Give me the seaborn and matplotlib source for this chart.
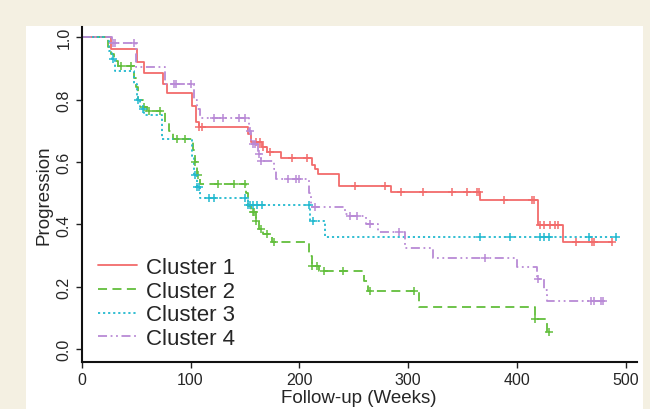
import numpy as np
import pandas as pd
import matplotlib
matplotlib.use("Agg")
import matplotlib.pyplot as plt
import seaborn as sns

# -------------------------------
# ДАНІ
# -------------------------------
labels = ["Cluster 1", "Cluster 2", "Cluster 3", "Cluster 4"]

c1_time = [0, 27, 51, 57, 75, 78, 101, 105, 108, 153, 156, 166, 170, 183, 212, 214, 217, 236, 284, 366, 419, 442, 487]
c1_surv = [1.0, 0.962, 0.92, 0.885, 0.85, 0.823, 0.78, 0.728, 0.713, 0.69, 0.664, 0.648, 0.632, 0.612, 0.59, 0.577, 0.561, 0.524, 0.503, 0.478, 0.399, 0.344, 0.344]
c1_cens = [108, 111, 160, 164, 167, 173, 193, 207, 251, 279, 293, 314, 340, 354, 363, 365, 388, 414, 416, 421, 425, 430, 435, 438, 454, 469, 471, 487]

c2_time = [0, 24, 27, 30, 33, 48, 50, 52, 56, 60, 77, 80, 84, 102, 104, 106, 109, 151, 153, 156, 160, 163, 167, 175, 209, 212, 218, 259, 263, 310, 417, 428, 429]
c2_surv = [1.0, 0.97, 0.946, 0.925, 0.909, 0.87, 0.84, 0.80, 0.777, 0.765, 0.73, 0.70, 0.674, 0.64, 0.60, 0.56, 0.53, 0.50, 0.46, 0.44, 0.41, 0.385, 0.369, 0.344, 0.30, 0.267, 0.25, 0.22, 0.187, 0.134, 0.096, 0.054, 0.054]
c2_cens = [36, 45, 57, 62, 72, 88, 95, 104, 107, 125, 140, 150, 157, 158, 160, 165, 170, 177, 212, 216, 223, 240, 265, 305, 417, 429]

c3_time = [0, 25, 28, 31, 48, 51, 54, 57, 74, 101, 103, 106, 109, 153, 210, 224, 491]
c3_surv = [1.0, 0.957, 0.93, 0.893, 0.85, 0.80, 0.77, 0.751, 0.674, 0.62, 0.56, 0.52, 0.484, 0.462, 0.412, 0.36, 0.36]
c3_cens = [29, 52, 56, 104, 106, 108, 117, 122, 150, 153, 155, 157, 161, 166, 209, 213, 366, 394, 421, 425, 429, 466, 491]

c4_time = [0, 28, 50, 77, 103, 106, 109, 154, 156, 162, 165, 177, 179, 209, 211, 242, 245, 261, 272, 297, 323, 400, 418, 425, 428, 480]
c4_surv = [1.0, 0.982, 0.904, 0.85, 0.80, 0.77, 0.741, 0.70, 0.658, 0.626, 0.604, 0.577, 0.545, 0.50, 0.455, 0.433, 0.428, 0.401, 0.376, 0.323, 0.292, 0.262, 0.225, 0.19, 0.153, 0.153]
c4_cens = [29, 31, 48, 85, 87, 100, 122, 130, 145, 150, 155, 157, 159, 163, 165, 190, 197, 200, 214, 247, 253, 265, 292, 371, 419, 468, 471, 477, 479]

colors = ["#f26b6b", "#62be3c", "#22b9cf", "#b98ad6"]
styles = ["-", (0, (5, 3)), (0, (1.2, 1.6)), (0, (5, 2, 1, 2, 1, 2))]


def step_value(times, surv, t):
    """Значення ступінчастої функції в момент t"""
    idx = np.searchsorted(times, t, side="right") - 1
    return np.asarray(surv)[idx]


# -------------------------------
# ПОБУДОВА
# -------------------------------
sns.set_style("ticks")
plt.rcParams["font.family"] = ["Liberation Sans", "DejaVu Sans"]

fig = plt.figure(figsize=(6.5, 4.1), dpi=100)
fig.patch.set_facecolor("#f4f0e2")

# біла панель під графіком
bg = fig.add_axes([26 / 650, 0, (643 - 26) / 650, 1 - 27 / 410])
bg.set_facecolor("white")
bg.set_xticks([])
bg.set_yticks([])
for sp in bg.spines.values():
    sp.set_visible(False)

ax = fig.add_axes([81.7 / 650, 1 - 362.7 / 410, (636.7 - 81.7) / 650, (362.7 - 28) / 410])
ax.set_facecolor("none")

series = [
    (c1_time, c1_surv, c1_cens),
    (c2_time, c2_surv, c2_cens),
    (c3_time, c3_surv, c3_cens),
    (c4_time, c4_surv, c4_cens),
]

for (t, s, c), lab, col, ls in zip(series, labels, colors, styles):
    sns.lineplot(x=t, y=s, ax=ax, drawstyle="steps-post", color=col,
                 linestyle=ls, linewidth=1.3, label=lab, estimator=None, sort=False)
    cy = step_value(t, s, c)
    sns.scatterplot(x=c, y=cy, ax=ax, marker="+", color=col, s=30,
                    linewidth=1.1, legend=False, zorder=3)

ax.set_xlim(0, 510)
ax.set_ylim(-0.04, 1.033)
ax.set_xticks([0, 100, 200, 300, 400, 500])
ax.set_yticks([0.0, 0.2, 0.4, 0.6, 0.8, 1.0])
ax.set_yticklabels(["0.0", "0.2", "0.4", "0.6", "0.8", "1.0"], rotation=90, va="center")
ax.tick_params(axis="both", labelsize=11.5, length=4, width=1, color="#222222")
ax.set_xlabel("Follow-up (Weeks)", fontsize=13.5, labelpad=1)
ax.set_ylabel("Progression", fontsize=13.5, labelpad=3)
for side in ["top", "right"]:
    ax.spines[side].set_visible(False)
for side in ["left", "bottom"]:
    ax.spines[side].set_linewidth(1.5)
    ax.spines[side].set_color("#111111")

leg = ax.legend(loc="lower left", bbox_to_anchor=(-0.006, -0.022), frameon=False,
                fontsize=16, handlelength=1.75, handletextpad=0.4,
                labelspacing=0.12, borderaxespad=0.5)

fig.savefig("out.png", dpi=100, facecolor=fig.get_facecolor())
